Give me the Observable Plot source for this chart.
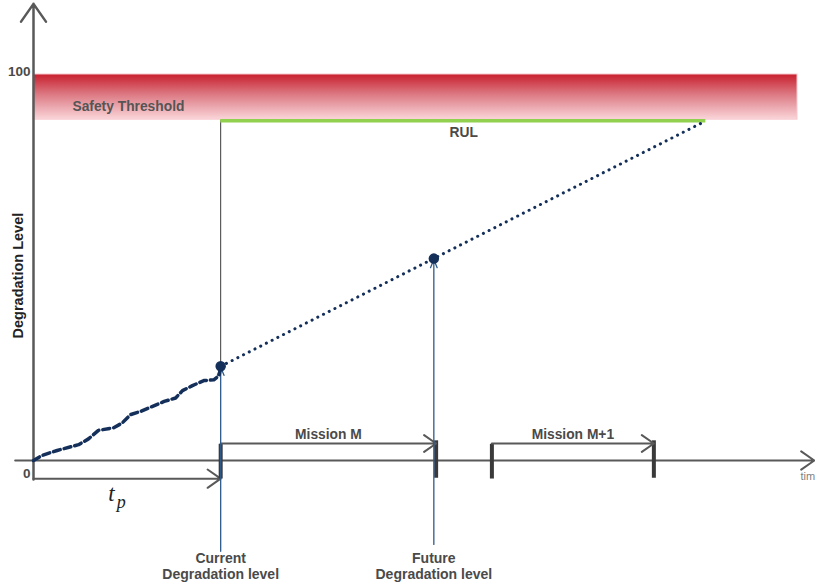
<!DOCTYPE html>
<html>
<head>
<meta charset="utf-8">
<script src="https://cdn.jsdelivr.net/npm/d3@7"></script>
<script src="https://cdn.jsdelivr.net/npm/@observablehq/plot@0.6"></script>
<style>
  html, body { margin: 0; padding: 0; background: #fff; }
</style>
</head>
<body>
<div id="chart"></div>
<script>
// ---- data (time units on x, degradation level 0..100 on y) ----
const pathTime  = [0, 1.1, 3.1, 5.9, 7.2, 8.5, 10.5, 11.6, 12.7, 14.0, 15.3, 17.1, 18.6, 19.5, 20.8, 22.3, 23.6, 24.3, 24.5];
const pathLevel = [0, 1.3, 2.6, 4.1, 5.6, 7.8, 8.5, 9.7, 11.9, 12.7, 13.8, 15.3, 16.2, 18.1, 19.4, 20.7, 20.9, 22.0, 24.4];

const currentTime = 24.5;      // t_p
const currentLevel = 24.4;
const futureTime = 52.4;
const futureLevel = 52.3;
const thresholdLevel = 88;     // RUL reached
const thresholdEndTime = 88;
const bandTop = 100;
const bandBottom = 88.3;

const missionNames = ["Mission M", "Mission M+1"];
const missionStart = [24.5, 60];
const missionEnd = [52.7, 81.2];

const tickLabels = ["100", "0"];
const tickValues = [100, 0];

// ---- derived tables ----
const path = pathTime.map((t, i) => ({t, v: pathLevel[i]}));
const projection = [
  {t: currentTime, v: currentLevel},
  {t: thresholdEndTime, v: thresholdLevel}
];
const keyPoints = [
  {t: currentTime, v: currentLevel},
  {t: futureTime, v: futureLevel}
];
const missions = missionNames.map((name, i) => ({name, start: missionStart[i], end: missionEnd[i]}));
const ticks = tickLabels.map((label, i) => ({label, v: tickValues[i]}));

const axisColor = "#595959";
const navy = "#14305a";
const blue = "#2d5b8c";
const textColor = "#4a4a4a";
const fs = 13.8;

const svg = Plot.plot({
  width: 815,
  height: 586,
  marginLeft: 33,
  marginRight: 18,
  marginTop: 74,
  marginBottom: 126,
  x: {domain: [0, 100], axis: null},
  y: {domain: [0, 100], axis: null},
  style: {fontFamily: "Liberation Sans, Arial, sans-serif", fontSize: "13px", background: "#fff", overflow: "visible"},
  marks: [
    // safety threshold band
    Plot.rect([{x1: 0, x2: 100, y1: bandBottom, y2: bandTop}], {
      x1: "x1", x2: "x2", y1: "y1", y2: "y2", fill: "url(#bandGrad)", stroke: "#f6c9ce", strokeWidth: 1
    }),
    Plot.text(["Safety Threshold"], {x: 5.1, y: 91.8, text: d => d, textAnchor: "start", fontWeight: "bold", fill: "#555", fontSize: fs}),
    // thin line from current point up to threshold
    Plot.ruleX([currentTime], {y1: currentLevel, y2: thresholdLevel, stroke: "#3a3a3a", strokeWidth: 1}),
    // green RUL line
    Plot.ruleY([thresholdLevel], {x1: currentTime, x2: thresholdEndTime, stroke: "#92d050", strokeWidth: 3.5}),
    Plot.text(["RUL"], {x: 56.3, y: 84.9, text: d => d, fontWeight: "bold", fill: textColor, fontSize: fs}),
    // axes
    Plot.arrow([{x1: 0, y1: -4.9, x2: 0, y2: 118.3}], {x1: "x1", y1: "y1", x2: "x2", y2: "y2", stroke: axisColor, strokeWidth: 2.5, headLength: 13, headAngle: 70}),
    Plot.arrow([{x1: -2.4, y1: 0, x2: 102.2, y2: 0}], {x1: "x1", y1: "y1", x2: "x2", y2: "y2", stroke: axisColor, strokeWidth: 2, headLength: 12, headAngle: 70}),
    Plot.arrow([{x1: 0, y1: -4.7, x2: currentTime, y2: -4.7}], {x1: "x1", y1: "y1", x2: "x2", y2: "y2", stroke: axisColor, strokeWidth: 2, headLength: 12, headAngle: 70}),
    // mission ticks
    Plot.ruleX(missions, {x: "start", y1: -4.8, y2: 4.2, stroke: "#3a3a3a", strokeWidth: 4}),
    Plot.ruleX(missions, {x: "end", y1: -4.6, y2: 5.1, stroke: "#3a3a3a", strokeWidth: 4}),
    Plot.arrow(missions, {x1: "start", x2: "end", y1: 4.4, y2: 4.4, stroke: axisColor, strokeWidth: 2, headLength: 11, headAngle: 70}),
    Plot.text(missions, {x: d => (d.start + d.end) / 2, y: 6.8, text: "name", fontWeight: "bold", fill: textColor, fontSize: fs}),
    // tick labels
    Plot.text(ticks, {x: 0, y: d => d.v === 0 ? -3.4 : 100.8, text: "label", textAnchor: "end", dx: -3, fontWeight: "bold", fill: textColor, fontSize: 13.5}),
    // axis titles
    Plot.text(["Degradation Level"], {x: -1.95, y: 47.9, text: d => d, rotate: -90, fontWeight: "bold", fill: "#222", fontSize: 14.5}),
    Plot.text(["time"], {x: 100.4, y: -4.2, text: d => d, textAnchor: "start", fill: "#7f7f7f", fontSize: 11}),
    // t_p
    Plot.text(["t"], {x: 10.2, y: -8.6, text: d => d, fontFamily: "Liberation Serif, Times New Roman, serif", fontStyle: "italic", fontSize: 23, fill: "#222"}),
    Plot.text(["p"], {x: 11.5, y: -10.7, text: d => d, fontFamily: "Liberation Serif, Times New Roman, serif", fontStyle: "italic", fontSize: 18, fill: "#222"}),
    // blue vertical indicator arrows
    Plot.arrow(keyPoints, {x1: "t", x2: "t", y1: (d, i) => i === 0 ? -23.8 : -22, y2: "v", stroke: blue, strokeWidth: 1.3, headLength: 10, headAngle: 45, inset: 1}),
    Plot.text(["Current\nDegradation level", "Future\nDegradation level"], {
      x: (d, i) => keyPoints[i].t, y: -27.4, text: d => d, lineHeight: 1.15, fontWeight: "bold", fill: textColor, fontSize: 14
    }),
    // degradation history (dashed)
    Plot.line(path, {x: "t", y: "v", stroke: navy, strokeWidth: 3.5, strokeDasharray: "7,4"}),
    // projection (dotted)
    Plot.line(projection, {x: "t", y: "v", stroke: navy, strokeWidth: 3, strokeDasharray: "0.1,6.3", strokeLinecap: "round"}),
    Plot.dot(keyPoints, {x: "t", y: "v", r: 4.5, fill: navy, stroke: navy})
  ]
});

// gradient definition for the threshold band
const defs = d3.select(svg).insert("defs", ":first-child");
const grad = defs.append("linearGradient").attr("id", "bandGrad").attr("x1", 0).attr("y1", 0).attr("x2", 0).attr("y2", 1);
grad.append("stop").attr("offset", "0%").attr("stop-color", "#c81f2d");
grad.append("stop").attr("offset", "45%").attr("stop-color", "#dc7983");
grad.append("stop").attr("offset", "100%").attr("stop-color", "#fad5d9");
d3.select(svg).select("g[aria-label=rect] rect").attr("fill", "url(#bandGrad)");

document.getElementById("chart").appendChild(svg);
</script>
</body>
</html>
